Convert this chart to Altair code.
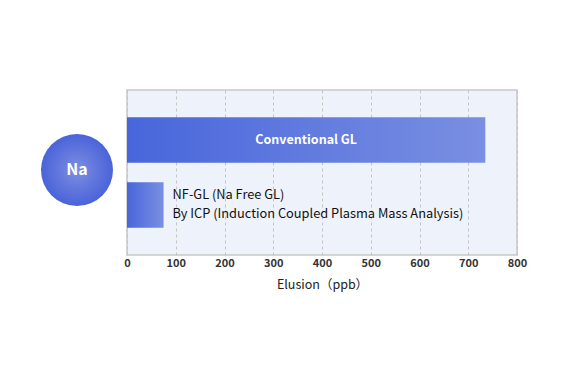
import altair as alt
import pandas as pd

categories = ["Conventional GL", "NF-GL"]
values = [735, 75]
labels = ["Conventional GL", "NF-GL (Na Free GL)\nBy ICP (Induction Coupled Plasma Mass Analysis)"]
ticks = [0, 100, 200, 300, 400, 500, 600, 700, 800]

df = pd.DataFrame({"cat": categories, "value": values, "label": labels})

FONT = "Noto Sans CJK JP"

bar_grad = alt.LinearGradient(
    gradient="linear",
    stops=[alt.GradientStop(color="#4866db", offset=0),
           alt.GradientStop(color="#7a8fe2", offset=1)],
    x1=0, x2=1, y1=0, y2=0,
)

x_enc = alt.X(
    "value:Q",
    scale=alt.Scale(domain=[0, 800], nice=False),
    axis=alt.Axis(values=ticks, title="Elusion（ppb）", grid=True, gridDash=[3, 3],
                  gridColor="#c4c4c4", domain=False, ticks=False, labelPadding=2,
                  labelFlush=False, labelFontWeight="bold",
                  labelFontSize=11, labelColor="#333333", labelFont=FONT,
                  titleFont=FONT, titleFontSize=12.5, titleFontWeight="normal",
                  titleColor="#222222", titlePadding=10),
)
y_enc = alt.Y("cat:N", sort=categories, axis=None,
              scale=alt.Scale(paddingInner=0.3, paddingOuter=0.42))

bars = alt.Chart(df).mark_bar(color=bar_grad).encode(x=x_enc, y=y_enc)

conv_label = alt.Chart(df).transform_filter(alt.datum.cat == "Conventional GL").transform_calculate(
    mid="datum.value / 2").mark_text(color="white", fontWeight="bold", fontSize=12.5, font=FONT).encode(
    x=alt.X("mid:Q"), y=y_enc, text="label:N")

nf_label = alt.Chart(df).transform_filter(alt.datum.cat == "NF-GL").mark_text(
    align="left", dx=9, dy=-10, lineBreak="\n", lineHeight=19, fontSize=12.8, color="#111111", font=FONT).encode(
    x=alt.X("value:Q"), y=y_enc, text="label:N")

circle_grad = alt.RadialGradient(
    gradient="radial",
    stops=[alt.GradientStop(color="#7d8ee2", offset=0),
           alt.GradientStop(color="#4a63d9", offset=1)],
    x1=0.5, y1=0.5, r1=0, x2=0.5, y2=0.5, r2=0.5,
)

circle_data = alt.Data(values=[{"el": "Na"}])
circle = alt.Chart(circle_data).mark_circle(color=circle_grad, opacity=1, size=5184).encode(
    x=alt.value(-50), y=alt.value(80))
circle_text = alt.Chart(circle_data).mark_text(color="white", fontWeight="bold", fontSize=16, font=FONT).encode(
    x=alt.value(-50), y=alt.value(80), text="el:N")

chart = alt.layer(bars, conv_label, nf_label, circle, circle_text).properties(
    width=390, height=165,
    autosize=alt.AutoSizeParams(type="none"),
    padding={"left": 119, "top": 82, "right": 45, "bottom": 117},
    background="white",
).configure_view(fill="#eef2fb", stroke="#c8c8c8", strokeWidth=1.5)

chart.save("out.html", embed_options={"renderer": "svg", "actions": False})
